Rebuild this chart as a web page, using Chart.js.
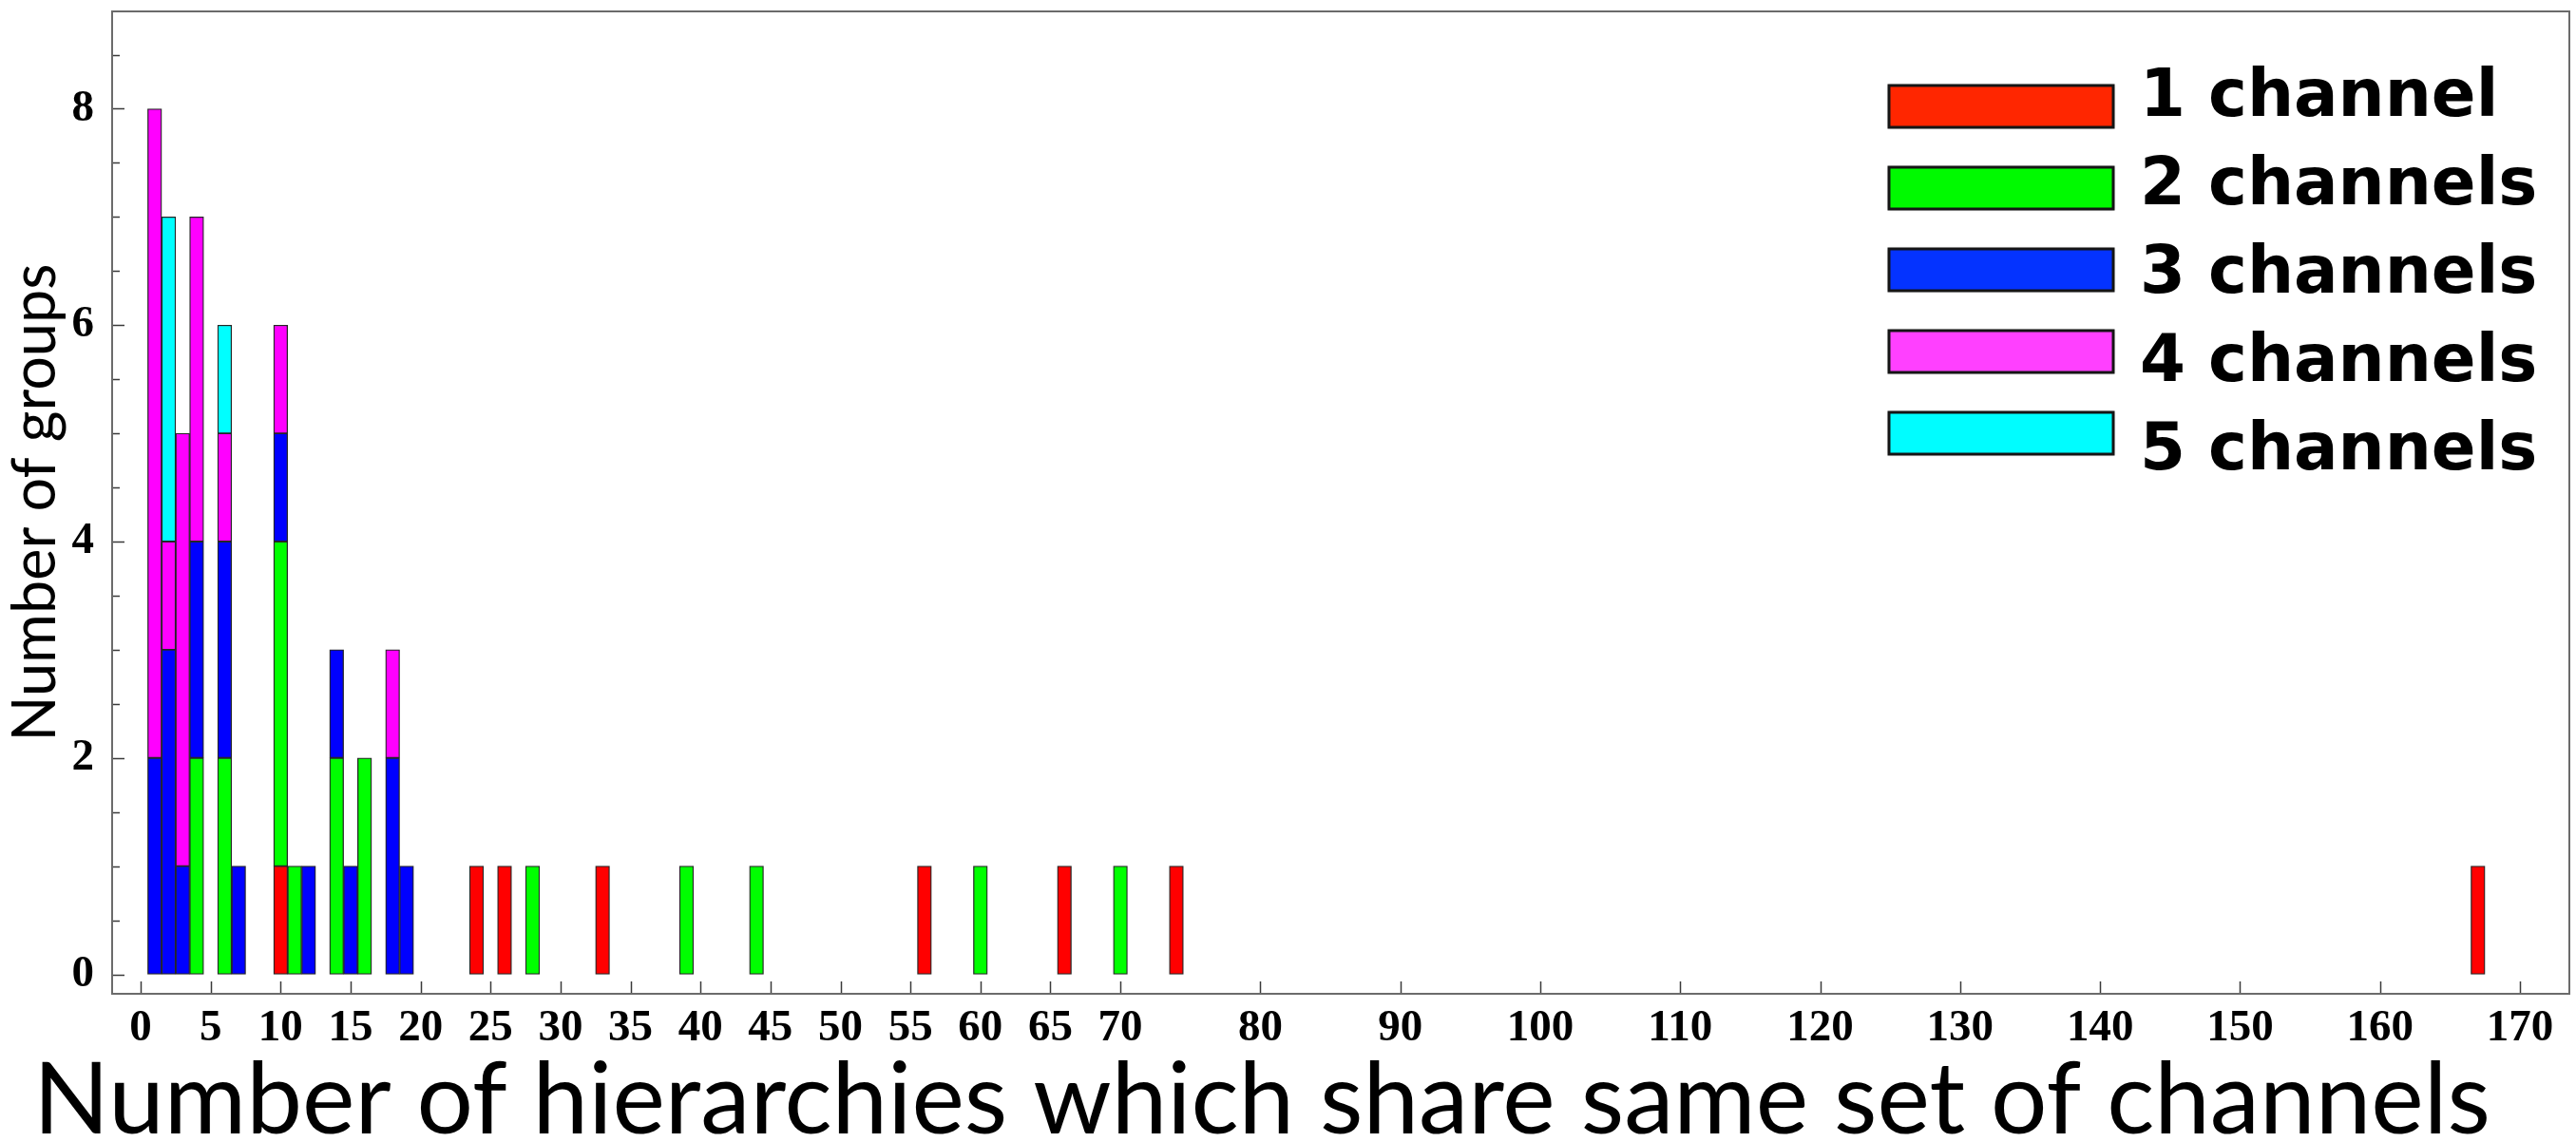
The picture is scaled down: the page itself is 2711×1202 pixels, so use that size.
<!DOCTYPE html>
<html>
<head>
<meta charset="utf-8">
<script src="https://cdn.jsdelivr.net/npm/chart.js@4.4.1/dist/chart.umd.min.js"></script>
<style>
html,body{margin:0;padding:0;background:#ffffff;}
#wrap{width:2711px;height:1202px;position:relative;}
</style>
</head>
<body>
<div id="wrap"><canvas id="c"></canvas></div>
<script>
// ---------- data ----------
const SERIES_LABELS = ['1 channel', '2 channels', '3 channels', '4 channels', '5 channels'];

const ch1X = [10, 24, 26, 33, 56, 66, 74, 167];
const ch1N = [1, 1, 1, 1, 1, 1, 1, 1];

const ch2X = [4, 6, 10, 11, 14, 16, 28, 39, 44, 60, 70];
const ch2N = [2, 2, 3, 1, 2, 2, 1, 1, 1, 1, 1];

const ch3X = [1, 2, 3, 4, 6, 7, 10, 12, 14, 15, 18, 19];
const ch3N = [2, 3, 1, 2, 2, 1, 1, 1, 1, 1, 2, 1];

const ch4X = [1, 2, 3, 4, 6, 10, 18];
const ch4N = [6, 1, 4, 3, 1, 1, 1];

const ch5X = [2, 6];
const ch5N = [3, 1];

const X_TICKS = [0, 5, 10, 15, 20, 25, 30, 35, 40, 45, 50, 55, 60, 65, 70, 80, 90, 100, 110, 120, 130, 140, 150, 160, 170];
const Y_TICKS = [0, 0.5, 1, 1.5, 2, 2.5, 3, 3.5, 4, 4.5, 5, 5.5, 6, 6.5, 7, 7.5, 8, 8.5];
const Y_LABELED = [0, 2, 4, 6, 8];

const X_TITLE = 'Number of hierarchies which share same set of channels';
const Y_TITLE = 'Number of groups';

// ---------- styles ----------
const BAR_COLORS = ['#ff0000', '#00ff00', '#0000ff', '#ff00ff', '#00ffff'];
const LEGEND_COLORS = ['#ff2600', '#00fa00', '#0433ff', '#ff40ff', '#00fdff'];

function pts(xs, ns) { return xs.map((x, i) => ({ x: x, y: ns[i] })); }
const SERIES = [[ch1X, ch1N], [ch2X, ch2N], [ch3X, ch3N], [ch4X, ch4N], [ch5X, ch5N]];

const datasets = SERIES.map((s, i) => ({
  label: SERIES_LABELS[i],
  data: pts(s[0], s[1]),
  backgroundColor: BAR_COLORS[i],
  borderColor: '#262626',
  borderWidth: 1.3,
  borderSkipped: false,
  categoryPercentage: 1.0,
  barPercentage: 1.0
}));

// inward tick marks + frame
const framePlugin = {
  id: 'frameTicks',
  afterDatasetsDraw(chart) {
    const ctx = chart.ctx, a = chart.chartArea;
    const xs = chart.scales.x, ys = chart.scales.y;
    ctx.save();
    ctx.strokeStyle = '#3a3a3a';
    ctx.lineWidth = 1.5;
    xs.ticks.forEach(t => {
      const px = Math.round(xs.getPixelForValue(t.value)) + 0.5;
      ctx.beginPath(); ctx.moveTo(px, a.bottom); ctx.lineTo(px, a.bottom - 13); ctx.stroke();
    });
    ys.ticks.forEach(t => {
      const py = Math.round(ys.getPixelForValue(t.value)) + 0.5;
      const len = Y_LABELED.includes(t.value) ? 13 : 8;
      ctx.beginPath(); ctx.moveTo(a.left, py); ctx.lineTo(a.left + len, py); ctx.stroke();
    });
    ctx.strokeStyle = '#6b6b6b';
    ctx.lineWidth = 2;
    ctx.strokeRect(a.left, a.top, a.right - a.left, a.bottom - a.top);
    ctx.restore();
  }
};

// legend boxes at the top right and the x-axis title
const legendPlugin = {
  id: 'boxLegend',
  afterDraw(chart) {
    const ctx = chart.ctx;
    ctx.save();
    chart.data.datasets.forEach((ds, i) => {
      const by = 90 + i * 86;
      ctx.shadowColor = 'rgba(0,0,0,0.45)';
      ctx.shadowBlur = 3;
      ctx.fillStyle = LEGEND_COLORS[i];
      ctx.fillRect(1988, by, 236, 44);
      ctx.shadowBlur = 0;
      ctx.lineWidth = 3;
      ctx.strokeStyle = '#151515';
      ctx.strokeRect(1988, by, 236, 44);
      ctx.fillStyle = '#000';
      ctx.font = 'bold 69px "DejaVu Sans"';
      ctx.textAlign = 'left';
      ctx.textBaseline = 'alphabetic';
      ctx.fillText(ds.label, 2252, 122 + i * 93);
    });
    ctx.fillStyle = '#000';
    ctx.font = '105px Lato';
    ctx.textAlign = 'center';
    ctx.textBaseline = 'alphabetic';
    ctx.fillText(X_TITLE, 1328, 1193);
    ctx.restore();
  }
};

const chart = new Chart(document.getElementById('c'), {
  type: 'bar',
  data: { datasets: datasets },
  options: {
    responsive: true,
    maintainAspectRatio: false,
    animation: false,
    devicePixelRatio: 1,
    layout: { padding: { top: 12, right: 7, left: 0, bottom: 0 } },
    plugins: { legend: { display: false }, tooltip: { enabled: false } },
    scales: {
      x: {
        type: 'linear',
        stacked: true,
        offset: false,
        min: -2.04,
        max: 173.53,
        grid: { display: false },
        border: { display: false },
        afterBuildTicks: (s) => { s.ticks = X_TICKS.map(v => ({ value: v })); },
        afterFit: (s) => { s.height = 156; s.paddingLeft = 0; s.paddingRight = 0; },
        ticks: {
          autoSkip: false,
          maxRotation: 0,
          padding: 1,
          color: '#000',
          font: { family: '"Liberation Serif"', weight: 'bold', size: 47 },
          callback: (v) => String(v)
        },
        title: { display: false, text: X_TITLE }
      },
      y: {
        stacked: true,
        min: -0.18,
        max: 8.9,
        grid: { display: false },
        border: { display: false },
        afterBuildTicks: (s) => { s.ticks = Y_TICKS.map(v => ({ value: v })); },
        afterFit: (s) => { s.width = 118; s.paddingTop = 0; s.paddingBottom = 0; },
        ticks: {
          autoSkip: false,
          padding: 11,
          color: '#000',
          font: { family: '"Liberation Serif"', weight: 'bold', size: 47 },
          callback: (v) => (Y_LABELED.includes(v) ? String(v) : '')
        },
        title: {
          display: true,
          text: Y_TITLE,
          color: '#000',
          font: { family: 'Lato', size: 63, weight: 'normal', lineHeight: 1.2 },
          padding: { top: 0, bottom: 0 }
        }
      }
    }
  },
  plugins: [framePlugin, legendPlugin]
});
</script>
</body>
</html>
